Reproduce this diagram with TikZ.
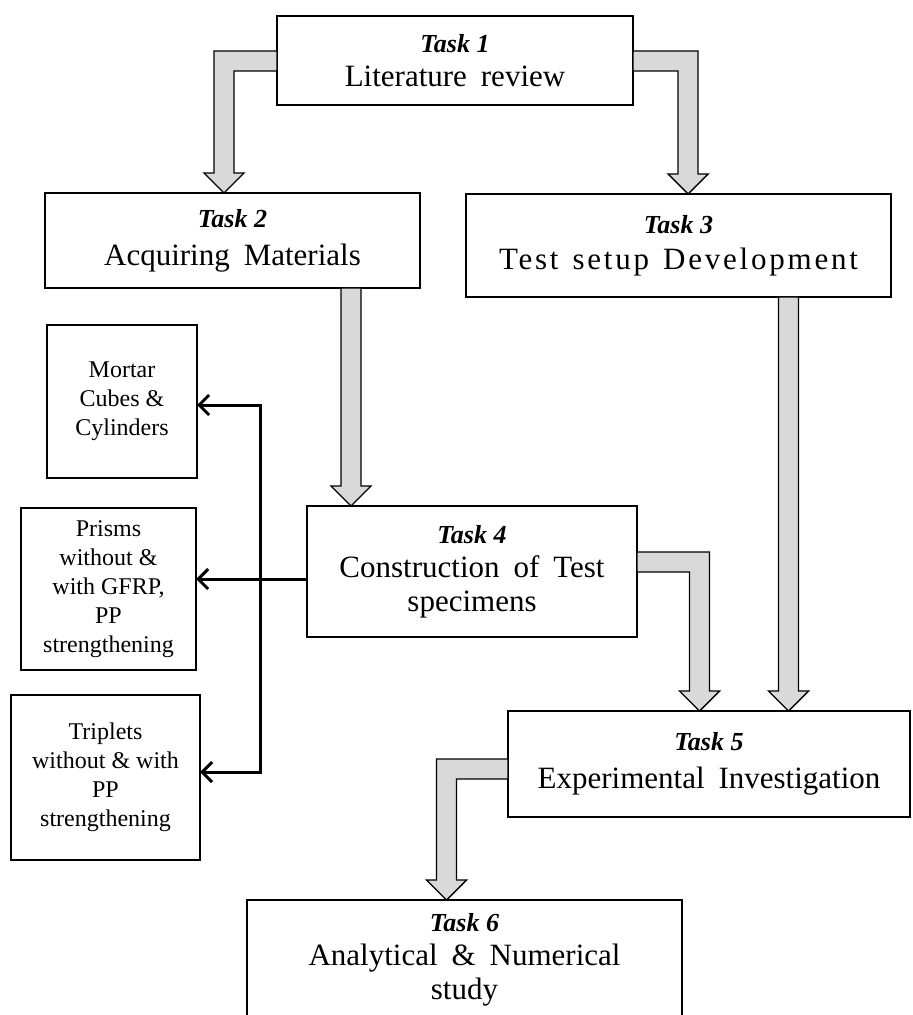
\documentclass[tikz,border=0pt]{standalone}
\usepackage{fontspec}
\setmainfont{Liberation Serif}
\usetikzlibrary{arrows.meta, calc}

\newcommand{\widespace}{\spaceskip=0.45em plus 0.1em\relax}
\tikzset{
  task/.style={draw, line width=0.6pt, fill=white, align=center, inner sep=0pt, outer sep=0pt,
    font=\fontsize{15.5}{17}\selectfont\widespace},
  spec/.style={draw, line width=0.6pt, fill=white, align=center, inner sep=0pt, outer sep=0pt,
    font=\fontsize{12}{14.5}\selectfont},
  blockarrow/.style={fill=gray!30, draw=black, line width=0.7pt, line join=miter},
  link/.style={line width=1.5pt, line join=miter},
}
\newcommand{\tasklbl}[1]{{\fontsize{13}{15}\selectfont\bfseries\itshape\spaceskip=0pt\relax #1}}
\def\shaftw{5pt}
\def\headw{10pt}
\def\headl{10pt}
% #1 = 1 turns right, -1 turns left
\newcommand{\elbowarrow}[3]{%
  \filldraw[blockarrow] let \p1=#2, \p2=#3 in
    (\x1,{\y1+\shaftw}) -- ({\x2+(#1)*\shaftw},{\y1+\shaftw}) -- ({\x2+(#1)*\shaftw},{\y2+\headl})
    -- ({\x2+(#1)*\headw},{\y2+\headl}) -- (\x2,\y2) -- ({\x2-(#1)*\headw},{\y2+\headl})
    -- ({\x2-(#1)*\shaftw},{\y2+\headl}) -- ({\x2-(#1)*\shaftw},{\y1-\shaftw}) -- (\x1,{\y1-\shaftw}) -- cycle;}
\newcommand{\droparrow}[2]{%
  \filldraw[blockarrow] let \p1=#1, \p2=#2 in
    ({\x1-\shaftw},\y1) -- ({\x1-\shaftw},{\y2+\headl}) -- ({\x1-\headw},{\y2+\headl}) -- (\x1,\y2)
    -- ({\x1+\headw},{\y2+\headl}) -- ({\x1+\shaftw},{\y2+\headl}) -- ({\x1+\shaftw},\y1) -- cycle;}

\begin{document}
\begin{tikzpicture}[x=0.5pt, y=-0.5pt, >={Straight Barb[length=5pt,width=10pt]}]
  \useasboundingbox (0,0) rectangle (912,1015);

  \node[task, minimum width=178pt, minimum height=44.5pt] (t1) at (455,60.5) {\tasklbl{Task 1}\\ Literature review};
  \node[task, minimum width=187.5pt, minimum height=47.5pt] (t2) at (232.5,240.5) {\tasklbl{Task 2}\\[2pt] Acquiring Materials};
  \node[task, minimum width=212.5pt, minimum height=51.5pt] (t3) at (678.5,245.5) {\tasklbl{Task 3}\\[1pt] \addfontfeatures{LetterSpace=9}Test setup Development};
  \node[task, minimum width=165pt, minimum height=65.5pt] (t4) at (472,571.5) {\tasklbl{Task 4}\\ Construction of Test\\ specimens};
  \node[task, minimum width=201pt, minimum height=53pt] (t5) at (709,764) {\tasklbl{Task 5}\\[2pt] Experimental Investigation};
  \node[task, minimum width=217.5pt, minimum height=60pt, anchor=north] (t6) at (464.5,900) {\tasklbl{Task 6}\\ Analytical \& Numerical\\ study};

  \node[spec, minimum width=75pt, minimum height=76.5pt] (mortar) at (122,401.5) {Mortar\\ Cubes \&\\ Cylinders};
  \node[spec, minimum width=87.5pt, minimum height=81pt] (prisms) at (108.5,589) {Prisms\\ without \&\\ with GFRP,\\ PP\\ strengthening};
  \node[spec, minimum width=94.5pt, minimum height=82.5pt] (triplets) at (105.5,777.5) {Triplets\\ without \& with\\ PP\\ strengthening};

  \coordinate (split) at (260,579);

  \elbowarrow{-1}{([yshift=-0.25pt]t1.west)}{([xshift=-4.25pt]t2.north)}
  \elbowarrow{1}{([yshift=-0.25pt]t1.east)}{([xshift=4.75pt]t3.north)}
  \droparrow{([xshift=59.25pt]t2.south)}{(t4.north)}
  \droparrow{([xshift=55pt]t3.south)}{(t5.north)}
  \elbowarrow{1}{([yshift=4.75pt]t4.east)}{([xshift=-4.75pt]t5.north)}
  \elbowarrow{-1}{([yshift=-2.5pt]t5.west)}{([xshift=-9pt]t6.north)}

  \draw[link, ->] (t4.west |- split) -- (prisms.east |- split);
  \draw[link, <->] ([yshift=-1.75pt]mortar.east) -| (split) |- ([yshift=2.75pt]triplets.east);
\end{tikzpicture}
\end{document}
